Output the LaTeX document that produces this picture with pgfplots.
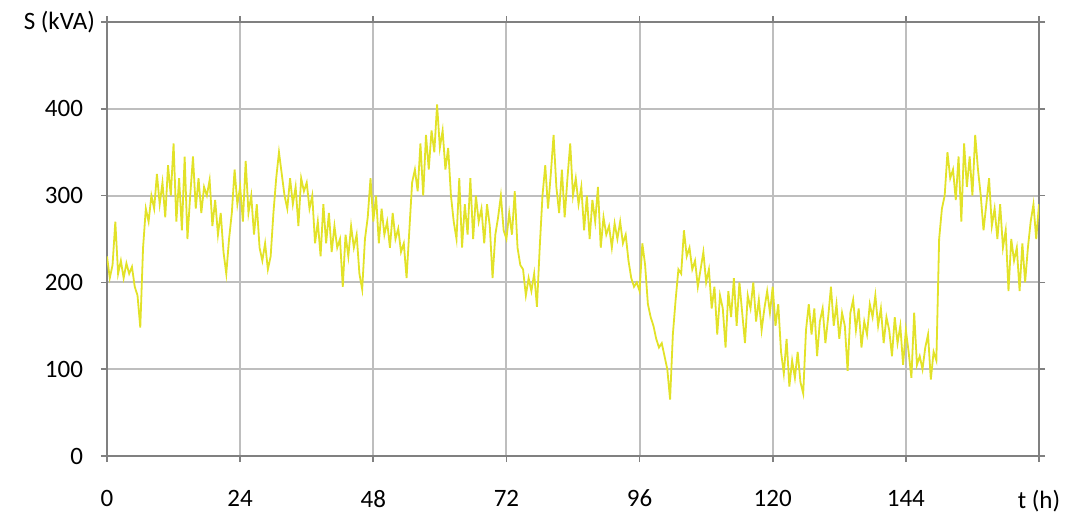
\documentclass[border=0pt]{standalone}
\usepackage{pgfplots}
\pgfplotsset{compat=1.18}
\usepackage{fontspec}
\setmainfont{Carlito}
\definecolor{lineyel}{RGB}{226,226,40}
\definecolor{gridg}{RGB}{190,190,190}
\definecolor{axg}{RGB}{128,128,128}
\begin{document}
\begin{tikzpicture}
\begin{axis}[
  at={(0,0)}, anchor=south west,
  scale only axis, width=466pt, height=217pt,
  xmin=0, xmax=168, ymin=0, ymax=500,
  xtick={0,24,48,72,96,120,144,168},
  xticklabels={0,24,48,72,96,120,144,t (h)},
  ytick={0,100,200,300,400,500},
  yticklabels={0,100,200,300,400,S (kVA)\hspace*{-6pt}},
  font=\fontsize{12.5}{15}\selectfont,
  /pgf/number format/assume math mode=true,
  grid=major,
  major grid style={gridg, line width=1pt},
  axis line style={axg, line width=1pt},
  tick style={axg, line width=0.8pt},
  tick align=outside, major tick length=3pt,
  xticklabel style={yshift=-10.5pt},
  yticklabel style={xshift=-5.5pt},
  clip=true,
]
\addplot[lineyel, line width=0.9pt] coordinates {
(0,230)(0.5,205)(1,220)(1.5,270)(2,210)(2.5,225)(3,205)(3.5,222)(4,210)(4.5,218)
(5,195)(5.5,185)(6,148)(6.5,240)(7,285)(7.5,270)(8,300)(8.5,285)(9,325)(9.5,290)
(10,315)(10.5,275)(11,335)(11.5,300)(12,360)(12.5,270)(13,320)(13.5,260)(14,345)(14.5,250)
(15,300)(15.5,345)(16,285)(16.5,320)(17,280)(17.5,310)(18,300)(18.5,318)(19,265)(19.5,295)
(20,255)(20.5,280)(21,235)(21.5,210)(22,250)(22.5,280)(23,330)(23.5,290)(24,310)(24.5,270)
(25,340)(25.5,280)(26,300)(26.5,255)(27,290)(27.5,240)(28,225)(28.5,245)(29,215)(29.5,230)
(30,280)(30.5,320)(31,350)(31.5,325)(32,300)(32.5,285)(33,320)(33.5,290)(34,310)(34.5,265)
(35,320)(35.5,305)(36,315)(36.5,285)(37,300)(37.5,245)(38,270)(38.5,230)(39,290)(39.5,245)
(40,280)(40.5,235)(41,265)(41.5,240)(42,250)(42.5,195)(43,255)(43.5,230)(44,265)(44.5,240)
(45,255)(45.5,210)(46,192)(46.5,250)(47,275)(47.5,320)(48,270)(48.5,300)(49,245)(49.5,285)
(50,255)(50.5,270)(51,240)(51.5,280)(52,250)(52.5,262)(53,235)(53.5,245)(54,205)(54.5,260)
(55,315)(55.5,330)(56,305)(56.5,360)(57,300)(57.5,370)(58,330)(58.5,375)(59,350)(59.5,405)
(60,355)(60.5,375)(61,330)(61.5,355)(62,300)(62.5,270)(63,250)(63.5,320)(64,240)(64.5,290)
(65,255)(65.5,320)(66,250)(66.5,300)(67,270)(67.5,285)(68,245)(68.5,290)(69,265)(69.5,205)
(70,255)(70.5,275)(71,300)(71.5,260)(72,250)(72.5,280)(73,255)(73.5,305)(74,240)(74.5,220)
(75,215)(75.5,185)(76,205)(76.5,190)(77,210)(77.5,172)(78,240)(78.5,300)(79,335)(79.5,285)
(80,325)(80.5,370)(81,310)(81.5,280)(82,330)(82.5,275)(83,320)(83.5,360)(84,300)(84.5,320)
(85,290)(85.5,310)(86,260)(86.5,300)(87,250)(87.5,295)(88,270)(88.5,310)(89,240)(89.5,275)
(90,255)(90.5,265)(91,240)(91.5,268)(92,250)(92.5,270)(93,245)(93.5,255)(94,225)(94.5,205)
(95,195)(95.5,200)(96,190)(96.5,245)(97,220)(97.5,175)(98,160)(98.5,150)(99,135)(99.5,125)
(100,130)(100.5,115)(101,100)(101.5,65)(102,140)(102.5,180)(103,215)(103.5,210)(104,260)(104.5,230)
(105,240)(105.5,215)(106,225)(106.5,195)(107,215)(107.5,235)(108,200)(108.5,215)(109,170)(109.5,195)
(110,140)(110.5,185)(111,170)(111.5,125)(112,190)(112.5,160)(113,205)(113.5,150)(114,200)(114.5,165)
(115,130)(115.5,185)(116,170)(116.5,200)(117,155)(117.5,180)(118,145)(118.5,170)(119,190)(119.5,165)
(120,195)(120.5,150)(121,175)(121.5,120)(122,95)(122.5,135)(123,80)(123.5,110)(124,90)(124.5,120)
(125,85)(125.5,72)(126,145)(126.5,175)(127,140)(127.5,170)(128,115)(128.5,155)(129,170)(129.5,130)
(130,160)(130.5,195)(131,150)(131.5,175)(132,135)(132.5,165)(133,150)(133.5,98)(134,165)(134.5,180)
(135,145)(135.5,170)(136,125)(136.5,155)(137,140)(137.5,175)(138,160)(138.5,185)(139,150)(139.5,170)
(140,130)(140.5,160)(141,145)(141.5,115)(142,160)(142.5,130)(143,150)(143.5,105)(144,145)(144.5,120)
(145,90)(145.5,165)(146,105)(146.5,115)(147,100)(147.5,125)(148,140)(148.5,88)(149,120)(149.5,110)
(150,250)(150.5,285)(151,300)(151.5,350)(152,320)(152.5,330)(153,295)(153.5,345)(154,270)(154.5,360)
(155,310)(155.5,345)(156,300)(156.5,370)(157,330)(157.5,300)(158,260)(158.5,290)(159,320)(159.5,265)
(160,285)(160.5,250)(161,290)(161.5,240)(162,260)(162.5,190)(163,250)(163.5,225)(164,240)(164.5,190)
(165,245)(165.5,200)(166,240)(166.5,270)(167,290)(167.5,250)(168,290)
};
\end{axis}
\pgfresetboundingbox
\path (-53.5pt,-29.5pt) rectangle (483pt,228pt);
\end{tikzpicture}
\end{document}
